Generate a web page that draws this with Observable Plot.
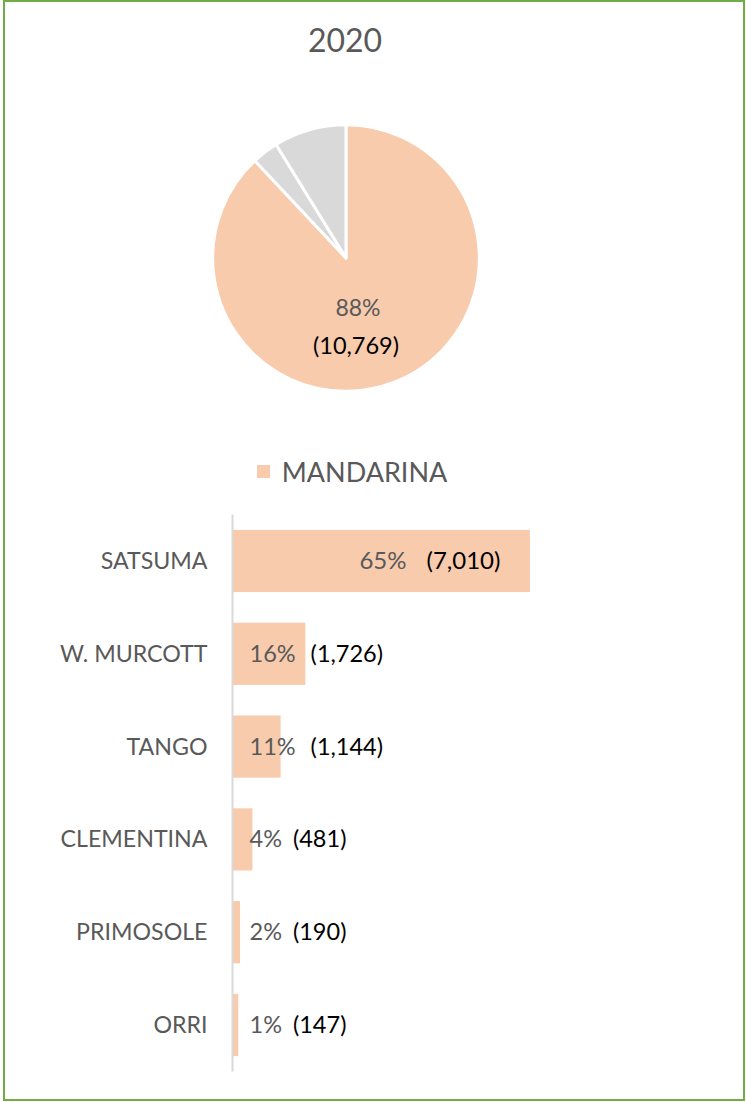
<!DOCTYPE html>
<html><head><meta charset="utf-8">
<script src="https://cdn.jsdelivr.net/npm/d3@7"></script>
<script src="https://cdn.jsdelivr.net/npm/@observablehq/plot@0.6"></script>
<style>
body{margin:0;width:746px;height:1102px;position:relative;background:#fff;font-family:Lato,sans-serif;overflow:hidden}
#frame{position:absolute;left:3px;top:0;width:742px;height:1101px;border:2px solid #70AD47;box-sizing:border-box}
#title{position:absolute;left:0;width:690px;top:24px;text-align:center;font-size:32px;color:#595959;line-height:1}
#pie{position:absolute;left:206px;top:118px}
#legend{position:absolute;left:0;width:704px;top:458px;display:flex;justify-content:center;align-items:center;font-size:27px;color:#595959;line-height:1}
#legend .sw{width:13px;height:13px;background:#F8CBAD;margin-right:12px}
#bars{position:absolute;left:0;top:494px}
</style></head><body>
<div id="frame"></div>
<div id="title">2020</div>
<div id="pie"></div>
<div id="legend"><span class="sw"></span><span>MANDARINA</span></div>
<div id="bars"></div>
<script>
// ---- data ----
const pieNames = ["MANDARINA", "OTRO A", "OTRO B"];
const pieValues = [10769, 390, 1075];
const pieColors = ["#F8CBAD", "#D9D9D9", "#D9D9D9"];
const piePct = ["88%", "3%", "9%"];

const categories = ["SATSUMA", "W. MURCOTT", "TANGO", "CLEMENTINA", "PRIMOSOLE", "ORRI"];
const values = [7010, 1726, 1144, 481, 190, 147];
const pctLabels = ["65%", "16%", "11%", "4%", "2%", "1%"];

const fmt = d3.format(",");

// ---- pie ----
const pieData = pieNames.map((n, i) => ({name: n, value: pieValues[i], color: pieColors[i], pct: piePct[i]}));
const arcs = d3.pie().sort(null).value(d => d.value)(pieData);
const main = arcs[0];
const mid = (main.startAngle + main.endAngle) / 2;
const k = 0.5;
const pieLabel = [{x: k * Math.sin(mid), y: k * Math.cos(mid), pct: main.data.pct, val: "(" + fmt(main.data.value) + ")"}];

function pieMark(index, scales) {
  const cx = scales.x(0), cy = scales.y(0), r = scales.x(1) - scales.x(0);
  const arc = d3.arc().innerRadius(0).outerRadius(r);
  const g = d3.create("svg:g").attr("transform", `translate(${cx},${cy})`);
  g.selectAll("path").data(arcs).join("path")
    .attr("d", arc).attr("fill", d => d.data.color)
    .attr("stroke", "#fff").attr("stroke-width", 3).attr("stroke-linejoin", "round");
  return g.node();
}

const pie = Plot.plot({
  width: 280, height: 280, margin: 0,
  x: {domain: [-1.05, 1.05], axis: null},
  y: {domain: [-1.05, 1.05], axis: null},
  style: {fontFamily: "Lato", background: "transparent"},
  marks: [
    pieMark,
    Plot.text(pieLabel, {x: "x", y: "y", text: "pct", dx: -13, dy: -12, fontSize: 23, fill: "#595959"}),
    Plot.text(pieLabel, {x: "x", y: "y", text: "val", dx: -15, dy: 26, fontSize: 23.5, fill: "#000"})
  ]
});
document.getElementById("pie").append(pie);

// ---- bars ----
const rows = categories.map((c, i) => ({cat: c, value: values[i], pct: pctLabels[i], lab: pctLabels[i] + "|(" + fmt(values[i]) + ")"}));
const big = rows.filter(d => d.value > 4000);
const small = rows.filter(d => d.value <= 4000);

const bars = Plot.plot({
  width: 746, height: 600,
  marginTop: 20.6, marginBottom: 22.6, marginLeft: 232, marginRight: 174,
  x: {domain: [0, 8000], axis: null},
  y: {domain: categories, paddingInner: 0.33, paddingOuter: 0.165, round: false, label: null, axis: null},
  style: {fontFamily: "Lato", fontSize: "23px", color: "#595959", background: "transparent"},
  marks: [
    Plot.barX(rows, {x: "value", y: "cat", fill: "#F8CBAD"}),
    Plot.axisY({tickSize: 0, tickPadding: 25, fontSize: 23.2, fill: "#595959", label: null}),
    Plot.ruleX([0], {stroke: "#D9D9D9", strokeWidth: 2}),
    Plot.text(big, {x: "value", y: "cat", text: "lab", textAnchor: "end", dx: -30, fontSize: 24, fill: "#595959"}),
    Plot.text(small, {x: d => 0, y: "cat", text: "lab", textAnchor: "start", dx: 17, fontSize: 23.5, fill: "#595959"})
  ]
});
document.getElementById("bars").append(bars);

// split labels into percent (grey) and value (black)
bars.querySelectorAll('g[aria-label="text"] text').forEach(t => {
  const s = t.textContent;
  if (!s.includes("|")) return;
  const [a, b] = s.split("|");
  const isBig = t.getAttribute("text-anchor") === "end" || t.parentNode.getAttribute("text-anchor") === "end";
  t.textContent = "";
  const ns = "http://www.w3.org/2000/svg";
  const t1 = document.createElementNS(ns, "tspan");
  t1.textContent = a; t1.setAttribute("fill", "#595959");
  const t2 = document.createElementNS(ns, "tspan");
  t2.textContent = b; t2.setAttribute("fill", "#000");
  t2.setAttribute("dx", isBig ? "20" : (a.length > 2 ? "15" : "11"));
  t.append(t1, t2);
});
</script>
</body></html>
